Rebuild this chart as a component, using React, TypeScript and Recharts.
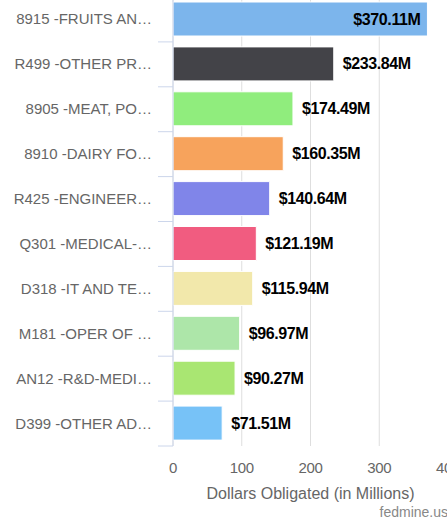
import React from 'react';
import { BarChart, Bar, XAxis, YAxis, CartesianGrid, Cell, LabelList } from 'recharts';

const categories = [
  '8915 -FRUITS AN…',
  'R499 -OTHER PR…',
  '8905 -MEAT, PO…',
  '8910 -DAIRY FO…',
  'R425 -ENGINEER…',
  'Q301 -MEDICAL-…',
  'D318 -IT AND TE…',
  'M181 -OPER OF …',
  'AN12 -R&D-MEDI…',
  'D399 -OTHER AD…',
];

const obligated = [370.11, 233.84, 174.49, 160.35, 140.64, 121.19, 115.94, 96.97, 90.27, 71.51];

const barColors = [
  '#7cb5ec', '#434348', '#90ed7d', '#f7a35c', '#8085e9',
  '#f15c80', '#f2e8ab', '#ade6a9', '#a9e672', '#77c2f7',
];

const xTicks = [0, 100, 200, 300, 400];

const data = categories.map((name, i) => ({ name, value: obligated[i] }));

const FONT = '"Liberation Sans", Arial, sans-serif';
const BAND = 44.9;

const CategoryTick = (props: any) => {
  const { x, y, payload } = props;
  return (
    <g>
      <text
        x={x - 21}
        y={y}
        dy={5}
        textAnchor="end"
        fill="#666"
        fontSize={15}
        fontFamily={FONT}
        letterSpacing={0}
      >
        {payload.value}
      </text>
      <line x1={x - 15} x2={x} y1={y + BAND / 2} y2={y + BAND / 2} stroke="#ccd6eb" strokeWidth={1} />
    </g>
  );
};

const ValueLabel = (props: any) => {
  const { x, y, width, height, value } = props;
  const text = `$${Number(value).toFixed(2)}M`;
  const textW = text.length * 8.9;
  const end = x + width;
  const inside = end + 9 + textW > 447;
  return (
    <text
      x={inside ? end - 7 : end + 9}
      y={y + height / 2}
      dy={5.5}
      textAnchor={inside ? 'end' : 'start'}
      fill="#000"
      fontSize={16}
      fontWeight="bold"
      fontFamily={FONT}
      letterSpacing={-0.4}
    >
      {text}
    </text>
  );
};

export default function App() {
  return (
    <div style={{ position: 'fixed', left: 0, top: 0, width: 447, height: 520, overflow: 'hidden', background: '#fff' }}>
      <div style={{ position: 'absolute', left: 0, top: -3 }}>
        <BarChart
          width={470}
          height={523}
          data={data}
          layout="vertical"
          margin={{ top: 0, right: 22, bottom: 0, left: 0 }}
          barCategoryGap={0}
        >
          <CartesianGrid horizontal={false} vertical stroke="#dedede" />
          <XAxis
            type="number"
            domain={[0, 400]}
            ticks={xTicks}
            axisLine={false}
            tickLine={false}
            tickSize={0}
            tickMargin={16}
            height={74}
            tick={{ fill: '#666', fontSize: 15, fontFamily: FONT, letterSpacing: -0.3 }}
            label={{
              value: 'Dollars Obligated (in Millions)',
              position: 'insideBottom',
              offset: 21,
              fill: '#666',
              fontSize: 16,
              fontFamily: FONT,
              letterSpacing: 0,
            }}
          />
          <YAxis
            type="category"
            dataKey="name"
            width={173}
            axisLine={{ stroke: '#ccd6eb' }}
            tickLine={false}
            tickSize={0}
            tickMargin={0}
            tick={<CategoryTick />}
            interval={0}
          />
          <Bar dataKey="value" barSize={34} stroke="#fff" strokeWidth={1} isAnimationActive={false}>
            {data.map((d, i) => (
              <Cell key={d.name} fill={barColors[i]} />
            ))}
            <LabelList dataKey="value" content={<ValueLabel />} />
          </Bar>
        </BarChart>
      </div>
      <div
        style={{
          position: 'absolute',
          right: -1,
          top: 503,
          fontFamily: FONT,
          fontSize: 14,
          color: '#888',
          lineHeight: '18px',
          letterSpacing: 0,
        }}
      >
        fedmine.us
      </div>
    </div>
  );
}
